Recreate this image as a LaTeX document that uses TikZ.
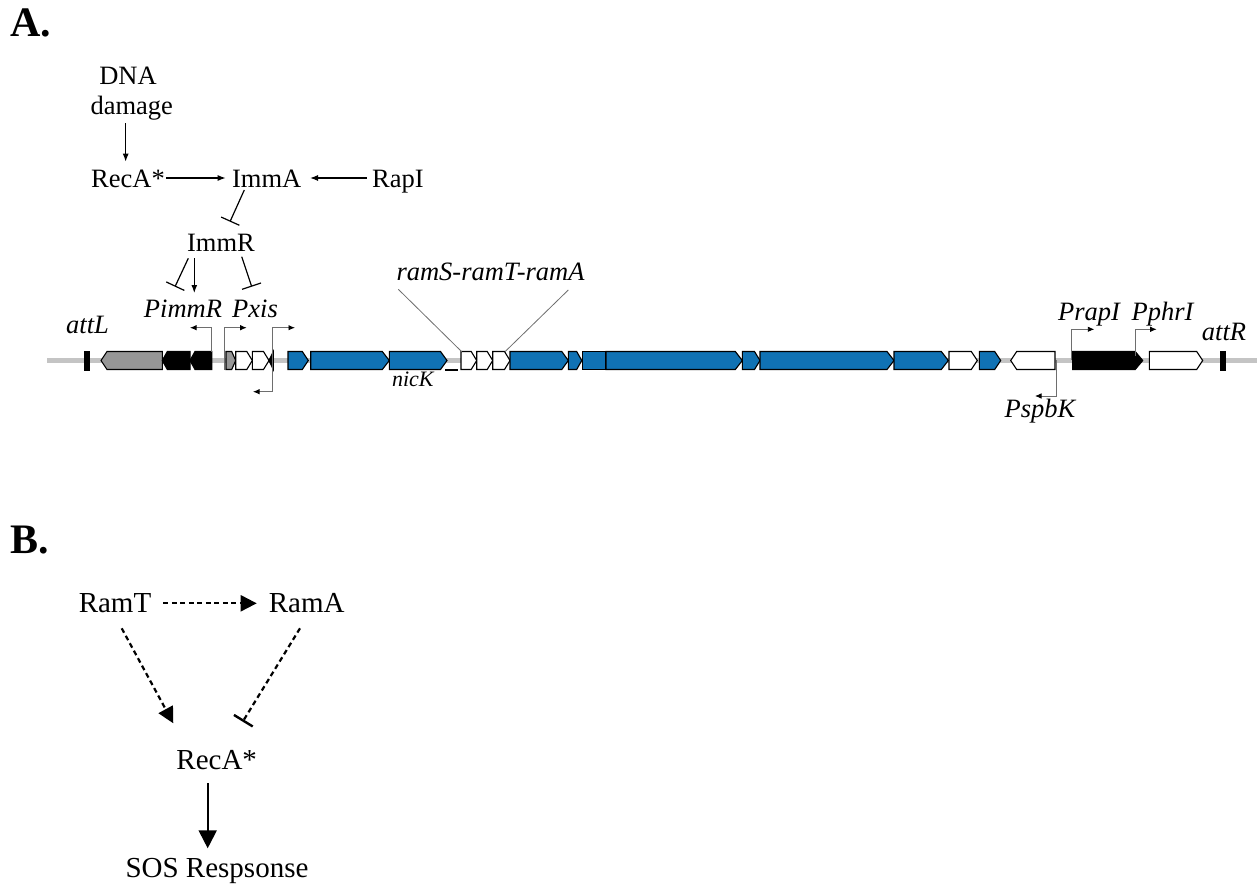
\documentclass[tikz,border=0pt]{standalone}
\usepackage{fontspec}
\setmainfont{Liberation Serif}
\usetikzlibrary{arrows.meta}
\definecolor{geneblue}{RGB}{16,114,180}
\definecolor{trackgray}{RGB}{196,196,196}
\definecolor{genegray}{RGB}{150,150,150}
\definecolor{promgray}{RGB}{110,110,110}
\newcommand{\geneR}[4]{\draw[gene,fill=#4] (#1,351.5) -- ({#2-#3},351.5) -- (#2,360.5) -- ({#2-#3},369.5) -- (#1,369.5) -- cycle;}
\newcommand{\geneL}[4]{\draw[gene,fill=#4] (#2,351.5) -- ({#1+#3},351.5) -- (#1,360.5) -- ({#1+#3},369.5) -- (#2,369.5) -- cycle;}
\tikzset{
  gene/.style={draw=black,line width=1.1pt,line join=miter},
  lbl/.style={inner sep=0pt,anchor=base,font=\fontsize{26.5}{30}\selectfont},
  ilbl/.style={lbl,font=\fontsize{26.5}{30}\selectfont\itshape},
  blbl/.style={inner sep=0pt,anchor=base,font=\fontsize{29}{33}\selectfont},
  panel/.style={inner sep=0pt,anchor=base west,font=\fontsize{42}{46}\selectfont\bfseries},
  act/.style={line width=1.2pt,-{Latex[length=8pt,width=6pt]}},
  inh/.style={line width=1.2pt,-{Bar[width=20pt,line width=1.2pt]}},
  prom/.style={draw=promgray,line width=0.9pt,-{Latex[length=6.5pt,width=5.5pt,color=black]}},
  promline/.style={draw=promgray,line width=0.9pt},
  ramline/.style={draw=promgray,line width=0.8pt},
  bact/.style={line width=2.2pt,dash pattern=on 5pt off 3.5pt,-{Triangle[length=16pt,width=16pt]}},
  binh/.style={line width=2.2pt,dash pattern=on 5pt off 3.5pt,-{Bar[width=22pt,line width=2.4pt]}},
  bsol/.style={line width=2pt,-{Triangle[length=18pt,width=18pt]}}
}
\begin{document}
\begin{tikzpicture}[x=1pt,y=-1pt]
\useasboundingbox (0,0) rectangle (1260,886);

% ---------- panel labels
\node[panel] (pA) at (10,36) {A.};
\node[panel] (pB) at (10,553) {B.};

% ---------- network A
\node[lbl] (dna) at (128,84) {DNA};
\node[lbl] (damage) at (131.7,114.3) {damage};
\node[lbl] (recA) at (128,187) {RecA*};
\node[lbl] (immA) at (266.7,187) {ImmA};
\node[lbl] (rapI) at (398,187) {RapI};
\node[lbl] (immR) at (221,251.7) {ImmR};
\node[ilbl] (pimmR) at (183,317.7) {PimmR};
\node[ilbl] (pxis) at (255,317.7) {Pxis};

\draw[act] ([shift={(-6,9)}]damage.base) -- ([shift={(-2.3,-25.3)}]recA.base);
\draw[act] ([shift={(38,-9)}]recA.base) -- ([shift={(-41,-9)}]immA.base);
\draw[act] ([shift={(-31.3,-9)}]rapI.base) -- ([shift={(43.3,-9)}]immA.base);
\draw[inh] ([shift={(-22.4,3)}]immA.base) -- ([shift={(9,-30)}]immR.base);
\draw[inh] ([shift={(-32.7,6.6)}]immR.base) -- ([shift={(-8,-31)}]pimmR.base);
\draw[act] ([shift={(-26.7,6.6)}]immR.base) -- ([shift={(11.3,-24.7)}]pimmR.base);
\draw[inh] ([shift={(20.7,5)}]immR.base) -- ([shift={(-3.3,-31)}]pxis.base);

% ---------- track
\draw[trackgray,line width=5pt] (47,360.5) -- (1257,360.5);
\fill[black] (84,350.5) rectangle (89.5,370.5);
\fill[black] (1220,350.5) rectangle (1226,370.5);

% ---------- genes
\geneL{101}{162.3}{6}{genegray}
\geneL{162.3}{190}{5}{black}
\geneL{190}{211.7}{5}{black}
\geneR{226}{235.7}{4}{genegray}
\geneR{235.7}{252.3}{5.5}{white}
\geneR{252.3}{269}{5.5}{white}
\geneL{269}{273.3}{4.3}{black}
\geneR{288}{308.3}{6}{geneblue}
\geneR{310.7}{389.3}{7}{geneblue}
\geneR{389.3}{447}{6.5}{geneblue}
\geneR{461}{476.7}{5.5}{white}
\geneR{476.7}{492.7}{5.5}{white}
\geneR{492.7}{510}{5.5}{white}
\geneR{510}{568.3}{6.5}{geneblue}
\geneR{568.3}{581.7}{5}{geneblue}
\draw[gene,fill=geneblue] (582.7,351.5) rectangle (606,369.5);
\geneR{606}{742.3}{7}{geneblue}
\geneR{742.3}{760}{5.5}{geneblue}
\geneR{760}{894}{7}{geneblue}
\geneR{894}{948.3}{7}{geneblue}
\geneR{949}{977.3}{6}{white}
\geneR{979.3}{1000.7}{6}{geneblue}
\geneL{1010.7}{1055}{6}{white}
\geneR{1072.7}{1142.7}{7.5}{black}
\geneR{1149.3}{1202.7}{6}{white}
\draw[black,line width=1.2pt] (445,370) -- (458.3,370);

% ---------- promoters
\draw[prom] (211.7,351.5) -- (211.7,327.7) -- (190,327.7);
\draw[prom] (224,370) -- (224,327.7) -- (246.7,327.7);
\draw[prom] (272,327.7) -- (295,327.7);
\draw[promline] (272,327.7) -- (272,391.7);
\draw[prom] (272,391.7) -- (253,391.7);
\draw[prom] (1056.7,360) -- (1056.7,396) -- (1035,396);
\draw[prom] (1071.7,360) -- (1071.7,329.3) -- (1094.3,329.3);
\draw[prom] (1135,356) -- (1135,329.3) -- (1156.7,329.3);

% ---------- track labels
\node[ilbl] (attL) at (87.5,333.3) {attL};
\node[ilbl] (attR) at (1224,340) {attR};
\node[ilbl] (ramlab) at (490.5,280.7) {ramS-ramT-ramA};
\node[lbl,font=\fontsize{22}{26}\selectfont\itshape] (nicK) at (412.8,386.7) {nicK};
\node[ilbl] (prapI) at (1089,320.7) {PrapI};
\node[ilbl] (pphrI) at (1162.5,320.7) {PphrI};
\node[ilbl] (pspbK) at (1040,417.7) {PspbK};
\coordinate (ramSgene) at (461.7,351.7);
\coordinate (ramAgene) at (505,351.7);
\draw[ramline] ([shift={(-92.2,8.6)}]ramlab.base) -- (ramSgene);
\draw[ramline] ([shift={(77.8,9.3)}]ramlab.base) -- (ramAgene);

% ---------- network B
\node[blbl] (ramT) at (115,612.3) {RamT};
\node[blbl] (ramA) at (306.7,612.3) {RamA};
\node[blbl] (recB) at (216.7,769.3) {RecA*};
\node[blbl] (sos) at (217,877.7) {SOS Respsonse};
\draw[bact] ([shift={(48.3,-9)}]ramT.base) -- ([shift={(-50,-9)}]ramA.base);
\draw[bact] ([shift={(6.7,16)}]ramT.base) -- ([shift={(-43.4,-46)}]recB.base);
\draw[binh] ([shift={(-6.7,16)}]ramA.base) -- ([shift={(26,-47.6)}]recB.base);
\draw[bsol] ([shift={(-9,13.7)}]recB.base) -- ([shift={(-9.3,-29.4)}]sos.base);
\end{tikzpicture}
\end{document}
